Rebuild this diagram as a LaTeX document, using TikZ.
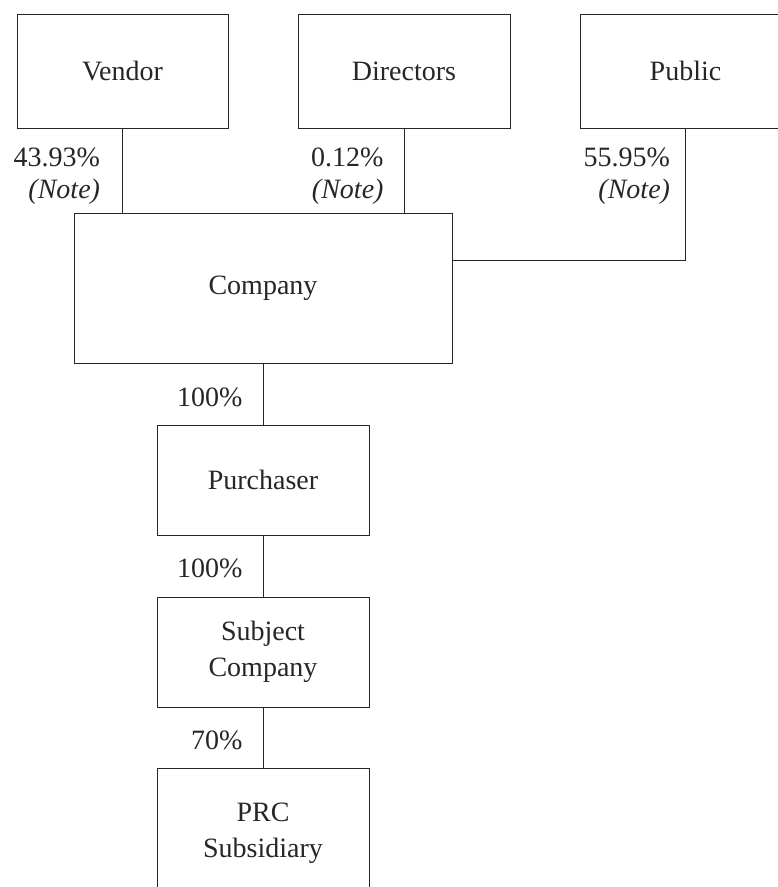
\documentclass[tikz,border=0pt]{standalone}
\usepackage{fontspec}
\setmainfont{Liberation Serif}

\tikzset{
  entity/.style={draw,minimum width=212pt,minimum height=110pt,align=center,inner sep=0pt,
    font=\fontsize{28}{36}\selectfont},
  share/.style={anchor=north east,align=right,inner sep=0pt},
}

\begin{document}
\begin{tikzpicture}[x=1pt,y=-1pt,font=\fontsize{28}{32}\selectfont,line width=1pt,color=black!85]
  \useasboundingbox (0,0) rectangle (778,887);
  \clip (0,0) rectangle (778,887);

  \node[entity,minimum width=211pt,minimum height=114pt] (vendor) at (122.5,71) {Vendor};
  \node[entity,minimum height=114pt] (directors) at (404,71) {Directors};
  \node[entity,minimum width=211pt,minimum height=114pt] (public) at (685.5,71) {Public};
  \node[entity,minimum width=378pt,minimum height=150pt] (company) at (263,288) {Company};
  \node[entity] (purchaser) at (263,480) {Purchaser};
  \node[entity] (subject) at (263,652) {Subject\\Company};
  \node[entity,minimum height=130pt] (prc) at (263,833) {PRC\\Subsidiary};

  \draw (vendor.south) -- (vendor.south |- company.north);
  \draw (directors.south) -- (directors.south |- company.north);
  \draw (public.south) |- ([yshift=28pt]company.east);
  \draw (company.south) -- (purchaser.north);
  \draw (purchaser.south) -- (subject.north);
  \draw (subject.south) -- (prc.north);

  \node[share] (vendor-pct) at ([xshift=-22pt,yshift=-19pt]vendor.south) {43.93\%\\\textit{(Note)}};
  \node[share] (directors-pct) at ([xshift=-20pt,yshift=-19pt]directors.south) {0.12\%\\\textit{(Note)}};
  \node[share] (public-pct) at ([xshift=-15pt,yshift=-19pt]public.south) {55.95\%\\\textit{(Note)}};
  \node[share] (purchaser-pct) at ([xshift=-20pt,yshift=-24pt]company.south) {100\%};
  \node[share] (subject-pct) at ([xshift=-20pt,yshift=-23pt]purchaser.south) {100\%};
  \node[share] (prc-pct) at ([xshift=-20pt,yshift=-23pt]subject.south) {70\%};
\end{tikzpicture}
\end{document}
